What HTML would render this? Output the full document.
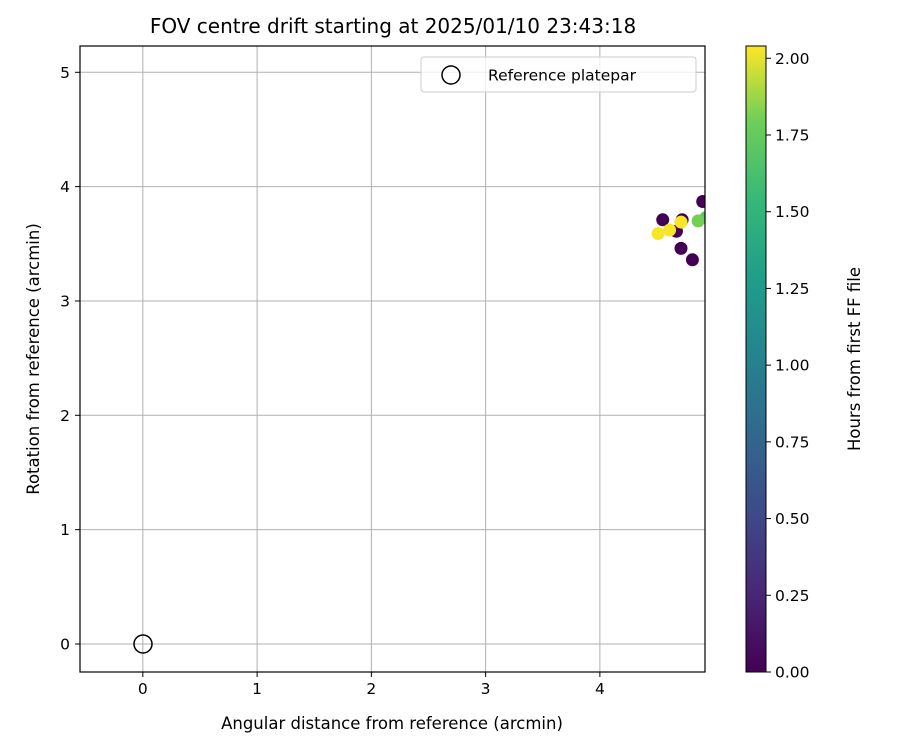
<!DOCTYPE html>
<html><head><meta charset="utf-8"><style>
body{margin:0;background:#fff;font-family:"DejaVu Sans","Liberation Sans",sans-serif;}
</style></head><body>
<svg id="chart" width="900" height="750" xmlns="http://www.w3.org/2000/svg" font-family="DejaVu Sans, Liberation Sans, sans-serif">
<defs>
<linearGradient id="vir" x1="0" y1="1" x2="0" y2="0">
<stop offset="0" stop-color="#440154"/><stop offset="0.13" stop-color="#482878"/><stop offset="0.25" stop-color="#3e4989"/><stop offset="0.38" stop-color="#31688e"/><stop offset="0.5" stop-color="#26828e"/><stop offset="0.63" stop-color="#1f9e89"/><stop offset="0.75" stop-color="#35b779"/><stop offset="0.88" stop-color="#6ece58"/><stop offset="1" stop-color="#fde725"/>
</linearGradient>
<clipPath id="plotclip"><rect x="80" y="46" width="625" height="626"/></clipPath>
</defs>
<text x="393" y="33" font-size="20" text-anchor="middle">FOV centre drift starting at 2025/01/10 23:43:18</text>
<g id="grid"></g>
<g id="ticks" font-size="15.5"></g>
<g id="points" clip-path="url(#plotclip)"></g>
<circle cx="143" cy="644" r="9" fill="none" stroke="#000" stroke-width="1.5"/>
<rect x="80" y="46" width="625" height="626" fill="none" stroke="#000" stroke-width="1.2"/>
<g>
<rect x="421" y="57" width="275" height="35" rx="3" fill="#fff" fill-opacity="0.8" stroke="#ccc"/>
<circle cx="451" cy="75" r="9" fill="none" stroke="#000" stroke-width="1.5"/>
<text x="488" y="80.5" font-size="15.5">Reference platepar</text>
</g>
<text x="392" y="729" font-size="16.5" text-anchor="middle">Angular distance from reference (arcmin)</text>
<text transform="translate(39,359) rotate(-90)" font-size="16.5" text-anchor="middle">Rotation from reference (arcmin)</text>
<rect x="746" y="46" width="20" height="626" fill="url(#vir)" stroke="#000" stroke-width="1"/>
<g id="cbticks" font-size="15.5"></g>
<text transform="translate(860,359) rotate(-90)" font-size="16.5" text-anchor="middle">Hours from first FF file</text>
</svg>
<script>
const xTicks=[0,1,2,3,4];
const yTicks=[0,1,2,3,4,5];
const cbTicks=[0,0.25,0.5,0.75,1.0,1.25,1.5,1.75,2.0];
const cbLabels=["0.00","0.25","0.50","0.75","1.00","1.25","1.50","1.75","2.00"];
const ptX=[4.90,4.55,4.72,4.67,4.71,4.81,4.93,4.86,4.51,4.61,4.71];
const ptY=[3.87,3.71,3.71,3.61,3.46,3.36,3.73,3.70,3.59,3.62,3.69];
const ptHours=[0.0,0.0,0.0,0.0,0.0,0.0,1.7,1.8,2.03,2.03,2.03];
const X0=-0.55,X1=4.92,Y0=-0.245,Y1=5.23,L=80,R=705,T=46,B=672,C0=0,C1=2.04;
const sx=v=>L+(v-X0)/(X1-X0)*(R-L);
const sy=v=>B-(v-Y0)/(Y1-Y0)*(B-T);
const sc=v=>B-(v-C0)/(C1-C0)*(B-T);
const NS="http://www.w3.org/2000/svg";
function mk(tag,attrs,parent,txt){const e=document.createElementNS(NS,tag);for(const k in attrs)e.setAttribute(k,attrs[k]);if(txt!==undefined)e.textContent=txt;document.getElementById(parent).appendChild(e);return e;}
const stops=[[68,1,84],[72,40,120],[62,73,137],[49,104,142],[38,130,142],[31,158,137],[53,183,121],[110,206,88],[253,231,37]];
function vir(v){let t=Math.max(0,Math.min(1,(v-C0)/(C1-C0)))*8;let i=Math.min(7,Math.floor(t)),f=t-i;const a=stops[i],b=stops[i+1];return `rgb(${a.map((c,k)=>Math.round(c+(b[k]-c)*f)).join(',')})`;}
xTicks.forEach(v=>{const x=sx(v);
const g=mk('line',{x1:x,x2:x,y1:T,y2:B,stroke:'#b0b0b0','stroke-width':1},'grid');

mk('line',{x1:x,x2:x,y1:B,y2:B+5,stroke:'#000'},'ticks');
const t=mk('text',{x:x,y:B+22,'text-anchor':'middle'},'ticks',String(v));
});
yTicks.forEach(v=>{const y=sy(v);
const g=mk('line',{x1:L,x2:R,y1:y,y2:y,stroke:'#b0b0b0','stroke-width':1},'grid');

mk('line',{x1:L-5,x2:L,y1:y,y2:y,stroke:'#000'},'ticks');
const t=mk('text',{x:L-10,y:y+5.5,'text-anchor':'end'},'ticks',String(v));
});
cbTicks.forEach((v,i)=>{const y=sc(v);
mk('line',{x1:766,x2:771,y1:y,y2:y,stroke:'#000'},'cbticks');
const t=mk('text',{x:775,y:y+5.5},'cbticks',cbLabels[i]);
});
ptX.forEach((v,i)=>{const c=mk('circle',{cx:sx(v),cy:sy(ptY[i]),r:6.5,fill:vir(ptHours[i])},'points');
});
</script>
</body></html>
